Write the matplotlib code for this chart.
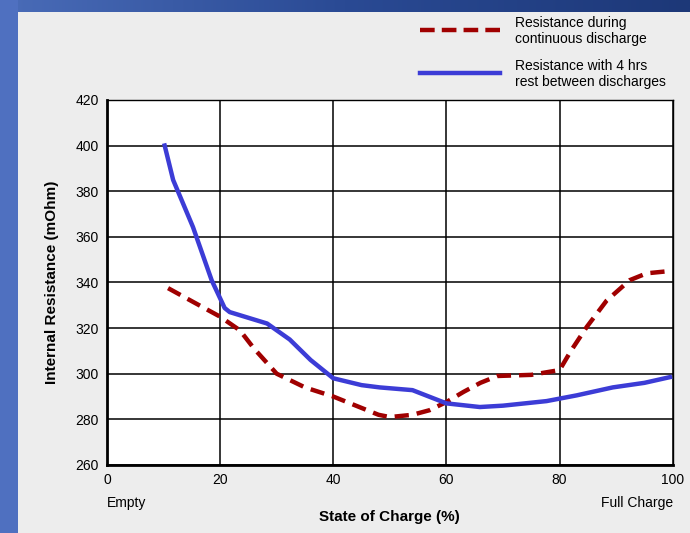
import numpy as np
import matplotlib
matplotlib.use("Agg")
import matplotlib.pyplot as plt
from matplotlib.lines import Line2D

plt.rcParams['font.family'] = ['Liberation Sans', 'DejaVu Sans']

# continuous discharge (red dashed)
cont_soc = [10.8, 15.2, 20, 23.5, 26, 30, 35, 40, 45, 48, 50, 54, 57, 60, 63, 66, 69, 75, 80, 82, 84.8, 88.3, 92.4, 95.4, 99.5]
cont_res = [337.5, 331.5, 325, 319, 311, 300, 294, 290, 285, 282, 281, 282, 284, 287.6, 292, 296, 299, 299.5, 301.6, 310, 320.5, 332, 341, 344, 345]

# with 4 hrs rest (blue solid)
rest_soc = [10.2, 11.7, 15.2, 18.5, 20.8, 21.7, 28.3, 32.3, 36, 40, 45, 48.2, 54, 60, 65.9, 70, 77.7, 83, 89.4, 95, 99.5]
rest_res = [400, 384.9, 364.3, 341, 328.8, 327, 322, 315, 306, 298, 295, 294, 292.8, 287, 285.4, 286, 288, 290.5, 294, 296, 298.5]

xticks = [0, 20, 40, 60, 80, 100]
yticks = [260, 280, 300, 320, 340, 360, 380, 400, 420]

fig = plt.figure(figsize=(6.9, 5.33), dpi=100)
fig.patch.set_facecolor('#ededed')

# blue frame strips
bg = fig.add_axes([0, 0, 1, 1], zorder=-5)
bg.axis('off')
bg.add_patch(plt.Rectangle((0, 0), 18, 533, color='#4f70c0', lw=0))
grad = np.linspace(0, 1, 256).reshape(1, -1)
cmap = matplotlib.colors.LinearSegmentedColormap.from_list('g', ['#4a6cb8', '#2a4a94', '#1d3878'])
bg.imshow(grad, extent=[0, 690, 12, 0], aspect='auto', cmap=cmap)
bg.set_xlim(0, 690)
bg.set_ylim(533, 0)

ax = fig.add_axes([0.155, 0.1276, 0.82, 0.685])
ax.set_facecolor('white')
ax.plot(cont_soc, cont_res, color='#a00000', lw=3.2, dashes=(3.2, 1.8), zorder=3)
ax.plot(rest_soc, rest_res, color='#3c3cd6', lw=3.2, zorder=4)

ax.set_xlim(0, 100)
ax.set_ylim(260, 420)
ax.set_xticks(xticks)
ax.set_yticks(yticks)
ax.grid(True, color='black', lw=1.1)
ax.tick_params(length=0, labelsize=10, pad=6)
for s in ['left', 'bottom']:
    ax.spines[s].set_linewidth(2)
for s in ['top', 'right']:
    ax.spines[s].set_linewidth(1)

ax.set_ylabel('Internal Resistance (mOhm)', fontsize=11, fontweight='bold', labelpad=12)
ax.set_xlabel('State of Charge (%)', fontsize=11, fontweight='bold', labelpad=16)
ax.text(0, -0.085, 'Empty', transform=ax.transAxes, fontsize=10, ha='left', va='top')
ax.text(1, -0.085, 'Full Charge', transform=ax.transAxes, fontsize=10, ha='right', va='top')

# legend drawn in figure coords
fig.add_artist(Line2D([420/690, 500/690], [1-30/533, 1-30/533], color='#a00000', lw=3.2, dashes=(3.3, 1.6)))
fig.add_artist(Line2D([420/690, 500/690], [1-73/533, 1-73/533], color='#3c3cd6', lw=3.2))
fig.text(515/690, 1-31/533, 'Resistance during\ncontinuous discharge', fontsize=10, va='center', ha='left', linespacing=1.15)
fig.text(515/690, 1-74/533, 'Resistance with 4 hrs\nrest between discharges', fontsize=10, va='center', ha='left', linespacing=1.15)

fig.savefig('out.png', dpi=100, facecolor=fig.get_facecolor())
